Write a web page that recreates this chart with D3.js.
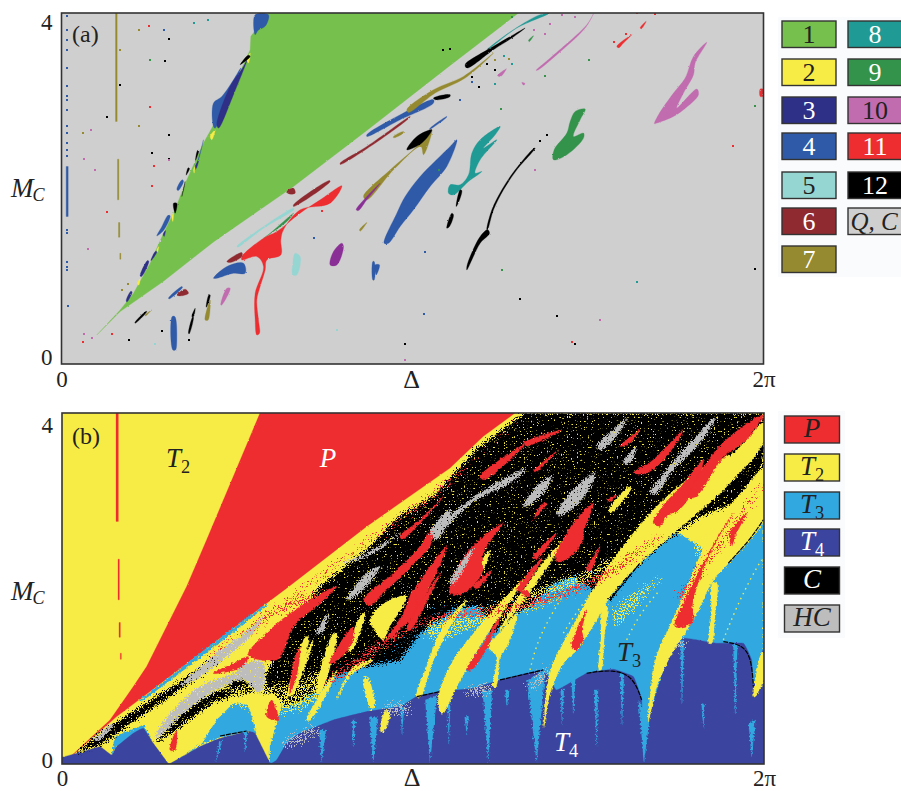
<!DOCTYPE html>
<html><head><meta charset="utf-8">
<style>
html,body{margin:0;padding:0;background:#fff}
svg{display:block}
svg text{font-family:"Liberation Serif","Times New Roman",serif !important;fill:#222}
</style>
<script src="https://cdn.jsdelivr.net/npm/d3@7/dist/d3.min.js"></script>
</head><body><svg id="c" width="901" height="791"></svg>
<script>
// Data: regions of the (Delta, M_C) parameter scan, read as [Delta step, M_C step] on a 2106 x 1052 grid.
const GRID_X=2106, GRID_Y=1052, DELTA_MAX=2*Math.PI, MC_MAX=4;
const xTickValues=[0,DELTA_MAX], xTickLabels=["0","2π"], yTickValues=[0,MC_MAX];

// ---- panel (a): attractor families ----
const a1=[[[106,87],[176,162],[216,212],[266,302],[306,392],[336,452],[376,552],[426,662],[476,752],[516,832],[566,942],[568,982],[621,1052],[1371,1052],[1166,895],[916,700],[696,532],[456,366],[306,248],[176,157]]];
const a2=[[[556,912],[566,932],[561,902]],[[446,682],[461,702],[451,672]],[[331,442],[336,452],[334,427]],[[286,342],[292,352],[288,335]],[[396,582],[400,592],[398,572]],[[228,242],[236,256],[232,236]]];
const a3=[[[466,717],[506,832],[546,892],[558,914],[516,807],[471,707]],[[271,312],[286,337],[282,338],[268,310]],[[401,590],[412,612],[404,586]],[[305,388],[312,400],[308,382]],[[196,186],[212,216],[208,218],[194,190]],[[240,262],[262,308],[258,310],[236,264]]];
const a4=[[[981,362],[1016,412],[1056,462],[1106,532],[1156,592],[1186,672],[1166,652],[1076,562],[1031,502],[1006,452],[968,362]],
[[456,257],[496,292],[546,302],[551,272],[516,272],[466,257]],
[[332,142],[340,142],[346,72],[342,42],[334,42]],
[[934,307],[938,307],[938,252],[934,252]],[[941,297],[954,297],[944,267]],
[[321,197],[361,232],[363,230],[323,195]],
[[916,682],[1016,732],[1116,782],[1116,792],[1016,747],[916,687]],
[[1106,707],[1156,742],[1154,738],[1104,703]],
[[581,1047],[621,1047],[611,1012],[590,1000],[581,987]],
[[456,712],[456,782],[481,802],[516,852],[538,887],[481,752],[461,707]],
[[426,672],[414,622],[401,582],[421,652]],
[[286,384],[306,400],[326,444],[320,446],[300,410]],[[350,520],[366,548],[362,552],[346,524]]];
const a4Column=[[[14,592],[20,592],[20,442],[14,442]]];
const a5=[[[701,332],[716,322],[706,267],[694,267],[694,302]],[[526,352],[606,412],[696,467],[698,464],[606,407],[528,350]]];
const a6=[[[496,307],[541,334],[541,322],[506,304]],[[346,207],[371,224],[381,212],[356,204]],[[676,517],[696,527],[701,512],[681,510]],[[836,602],[916,652],[1046,742],[1044,738],[916,645],[836,598]],[[696,472],[806,547],[804,550],[696,477]]];
const a7Lines=[[[162,1052],[167,1052],[167,727],[162,727]],[[168,614],[172,614],[172,492],[168,492]],[[171,424],[175,424],[175,380],[171,380]],[[175,332],[178,332],[178,314],[175,314]]];
const a7=[[[906,502],[986,582],[1066,652],[1111,702],[1086,627],[1078,652],[996,582],[916,492]],
[[1036,762],[1116,822],[1206,862],[1296,932],[1211,857],[1121,812],[1041,754]],
[[894,402],[916,424],[914,420],[896,398]],[[996,682],[1026,697],[1024,691],[996,678]],[[431,132],[446,192],[440,132]],[[251,147],[271,162],[269,160],[252,144]]];
const a8=[[[1161,512],[1166,537],[1196,537],[1221,567],[1231,632],[1256,672],[1316,712],[1301,687],[1266,647],[1306,672],[1256,612],[1241,572],[1261,577],[1221,547],[1176,507]],
[[1276,942],[1356,1002],[1436,1047],[1461,1050],[1366,1007],[1286,947]]];
const a9=[[[1476,612],[1478,642],[1516,692],[1526,727],[1541,757],[1571,764],[1556,732],[1536,682],[1566,692],[1566,677],[1516,627]],
[[606,377],[676,427],[696,452],[626,392]],[[1401,970],[1416,984],[1414,980],[1403,966]]];
const a10=[[[1779,720],[1791,747],[1836,812],[1871,857],[1896,922],[1936,964],[1901,902],[1896,867],[1866,812],[1846,767],[1906,824],[1911,807],[1866,762],[1836,742],[1786,722]],
[[1424,880],[1466,917],[1576,1017],[1596,1050],[1571,1007],[1486,927],[1431,882]],
[[1308,864],[1334,884],[1318,862]],[[481,177],[506,227],[496,227],[478,177]],[[1381,844],[1391,840],[1386,836]]];
const a11=[[[541,322],[606,377],[646,397],[716,452],[776,492],[841,534],[806,482],[716,462],[666,402],[658,372],[658,327],[616,312],[611,282],[596,232],[586,192],[591,132],[594,92],[586,87],[581,132],[581,212],[606,292],[586,322],[541,312]],
[[1666,952],[1711,987],[1686,962],[1671,947]],[[1736,1007],[1754,1027],[1740,1005]],[[2096,824],[2104,824],[2104,802],[2096,802]]];
const a12=[[[1216,282],[1231,312],[1256,362],[1284,392],[1278,402],[1256,382],[1226,322],[1216,292]],
[[1278,402],[1296,462],[1326,522],[1366,582],[1421,647],[1418,647],[1361,582],[1321,522],[1291,462],[1276,402]],
[[1156,407],[1171,452],[1176,447],[1164,412]],[[1184,472],[1196,522],[1201,520],[1188,477]],
[[1036,642],[1066,682],[1111,702],[1081,662]],
[[1211,897],[1296,952],[1356,987],[1391,1007],[1351,977],[1296,942],[1216,887]],
[[1116,797],[1161,807],[1161,800],[1121,792]],[[1126,797],[1166,807],[1164,800]],
[[336,482],[346,482],[341,452]],[[366,522],[371,547],[361,502]],[[381,92],[394,142],[396,140],[383,90]],[[391,142],[401,167],[396,142]],
[[221,122],[256,157],[254,158],[220,124]],[[436,172],[446,207],[442,207],[434,170]],[[536,897],[566,922],[560,925]],[[374,566],[384,586],[380,588]],[[402,610],[412,640],[408,640]]];
const aPurple=[[[806,297],[816,337],[841,362],[846,352],[826,297]],[[884,462],[916,502],[956,542],[916,492],[891,460]]];
const aDots12=[[321,975],[311,909],[176,835],[136,740],[321,687],[271,632],[323,614],[1031,59],[1376,195],[1486,145],[1541,59],[2081,284],[1456,687],[1436,667],[381,72],[201,72],[301,100],[1251,830],[1276,900],[1300,880],[1230,860],[1145,940],[1166,945]];
const aDots11=[[261,1014],[266,770],[136,457],[271,532],[64,65],[151,89],[276,592],[2013,654],[1531,67],[1726,1052],[1781,1048],[1692,990],[1656,965],[616,360],[781,460],[700,445]];
const aDots10=[[1031,12],[1616,132],[88,700],[66,615],[100,582],[80,345],[1451,990],[1466,1020],[1500,1045],[1540,1040],[1418,1000],[321,612],[68,90],[1419,580],[90,78]];
const aDots4=[[16,1042],[16,1002],[16,972],[16,942],[16,887],[16,832],[16,802],[16,792],[16,762],[16,712],[16,692],[16,662],[16,642],[16,622],[16,402],[16,392],[16,307],[16,292],[16,282],[20,174],[1090,337],[756,377],[306,1002],[1086,150],[1231,846],[1196,790]];
const aDots7=[[232,1002],[64,692],[232,712],[182,222],[176,940],[200,240],[1300,910],[1341,915]];
const aDots9=[[266,912],[1583,912],[2081,772],[1322,283],[1449,862],[1132,580],[1350,1040],[1318,764],[1458,1052]];
const aDots8=[[396,1022],[1726,246],[1326,922],[1300,840],[1350,900],[440,1030]];
const aDots5=[[300,1060],[826,102],[280,60]];
// ---- panel (b): dynamical regimes ----
const bP=[[[4,2],[144,132],[214,232],[254,292],[314,412],[374,532],[434,672],[594,1052],[1359,1052],[1264,982],[1164,887],[1014,782],[914,712],[674,527],[454,362],[284,232],[164,142]]];
const bT3=[[[624,0],[624,52],[664,192],[814,292],[964,332],[1114,472],[1314,492],[1614,592],[1814,712],[1999,602],[2104,732],[2104,0]],
[[334,4],[414,52],[464,132],[514,182],[559,177],[584,87],[559,97],[474,80],[414,57]],
[[149,27],[159,82],[244,117],[269,72],[164,52]],
[[234,192],[414,332],[614,482],[616,476],[419,322],[239,187]]];
const bT4=[[[4,0],[64,37],[114,52],[149,27],[164,52],[214,92],[244,107],[274,62],[319,2],[334,7],[414,52],[474,77],[554,97],[579,92],[624,4],[644,12],[674,62],[714,92],[814,132],[914,157],[1014,172],[1064,202],[1134,217],[1234,227],[1314,252],[1444,282],[1484,222],[1574,272],[1654,284],[1714,262],[1739,192],[1744,7],[1759,132],[1814,312],[1864,377],[1964,362],[2044,362],[2069,312],[2074,232],[2104,342],[2104,0]]];
const bT3Spikes=[[[462,7],[472,70],[480,70]],[[779,7],[772,102],[792,102]],[[934,7],[922,142],[948,138]],[[1104,7],[1090,192],[1125,205]],[[1279,7],[1262,222],[1290,222]],[[1424,7],[1396,250],[1450,285]],[[1604,52],[1597,222],[1608,222]],[[1746,7],[1730,190],[1762,130]],[[2069,22],[2060,122],[2080,132]],[[1214,92],[1208,142],[1220,142]],[[1334,172],[1330,222],[1342,222]],[[874,52],[870,132],[880,132]],[[1534,152],[1528,262],[1540,262]],[[1680,120],[1675,270],[1686,270]],[[1924,110],[1919,180],[1928,180]],[[550,40],[545,100],[555,100]],[[1020,90],[1016,170],[1026,170]],[[1160,60],[1156,215],[1166,215]],[[1500,120],[1496,225],[1506,225]],[[1860,180],[1855,370],[1866,370]],[[2020,150],[2014,360],[2026,360]]];
const bC=[[[674,402],[774,532],[914,642],[1014,745],[1114,800],[1234,935],[1374,1042],[1384,1052],[2104,1052],[2104,902],[2054,802],[2014,782],[1914,742],[1814,672],[1734,602],[1674,532],[1644,492],[1594,522],[1534,562],[1474,542],[1414,482],[1364,452],[1294,392],[1254,472],[1194,472],[1144,442],[1074,392],[1014,312],[964,302],[914,292],[874,282],[814,262],[774,222],[714,192],[674,172],[634,212],[604,212],[614,272],[654,352]],
[[44,32],[114,92],[214,158],[364,252],[454,316],[474,312],[374,238],[234,142],[124,62]],
[[284,62],[334,132],[414,192],[474,222],[574,232],[554,212],[454,187],[354,112]],
[[494,232],[534,262],[584,222],[554,212]]];
const bT2Spikes=[[[1139,152],[1194,252],[1264,372],[1334,472],[1384,552],[1314,482],[1244,402],[1164,292],[1129,192]],
[[1446,112],[1464,212],[1504,302],[1544,342],[1604,432],[1644,502],[1734,602],[1814,672],[1894,742],[1954,792],[2014,852],[2104,962],[2104,1022],[2014,932],[1964,912],[1874,852],[1784,772],[1714,692],[1654,612],[1594,522],[1544,432],[1504,362],[1464,272]],
[[1759,127],[1784,232],[1824,322],[1874,402],[1904,452],[1954,552],[1999,602],[2064,672],[2104,732],[2104,882],[2044,822],[1974,732],[1914,622],[1864,502],[1824,412],[1784,322]],
[[1942,362],[1949,452],[1952,542],[1964,542],[1959,452],[1949,362]],
[[1612,282],[1617,372],[1624,472],[1634,472],[1626,372],[1617,282]],
[[1294,232],[1304,322],[1279,352],[1314,392],[1364,452],[1334,352],[1314,322],[1302,232]],
[[1064,202],[1094,292],[1144,412],[1194,472],[1214,492],[1164,412],[1114,312],[1074,202]],
[[2076,202],[2099,332],[2104,332],[2104,252]],
[[1314,402],[1364,492],[1434,592],[1534,702],[1464,602],[1394,502]],
[[954,112],[974,162],[984,152],[962,92]],[[929,162],[904,252],[914,262],[939,182]],
[[734,132],[764,192],[824,282],[814,252],[744,132]],[[674,202],[714,292],[754,372],[714,252],[684,202]],
[[824,192],[874,292],[934,312],[864,262]],[[924,432],[984,492],[1034,502],[984,412],[964,372],[944,392]],
[[764,212],[814,392],[824,392],[774,212]],[[684,230],[730,380],[740,380],[694,230]],[[860,340],[900,450],[908,450],[870,340]],[[1640,760],[1700,830],[1706,826],[1648,754]],[[1240,560],[1280,640],[1284,636],[1246,556]]];
const bPSpikes=[[[1774,722],[1800,770],[1864,840],[1924,912],[1900,830],[1850,760],[1814,742],[1794,712]],
[[1479,622],[1500,665],[1534,722],[1594,782],[1564,692],[1564,672],[1524,620],[1489,606]],
[[1214,282],[1264,362],[1314,442],[1272,342],[1228,282]],
[[1529,352],[1544,402],[1574,462],[1560,402],[1563,372],[1543,342]],
[[1839,412],[1874,502],[1974,692],[2014,752],[1940,622],[1892,482],[1892,425],[1858,410]],
[[2009,652],[2004,692],[2054,752],[2019,682]],
[[1164,512],[1214,632],[1324,722],[1264,632],[1260,572],[1204,512]],
[[1014,562],[1074,652],[1114,707],[1104,652],[1034,582]],
[[1014,412],[1064,532],[1154,652],[1100,525],[1040,425]],
[[1714,872],[1774,912],[1864,1002],[1814,922],[1754,872]],
[[1414,732],[1434,772],[1454,782],[1434,752]],[[1674,952],[1734,1002],[1704,962]],[[1880,800],[1970,950],[2104,1047],[2054,972],[1985,920],[1900,800]],[[1634,792],[1664,807],[1644,787]],[[1414,877],[1489,942],[1424,877]],[[1374,512],[1394,522],[1404,502]],
[[969,367],[1024,452],[1054,522],[1064,472],[1004,395]],
[[904,492],[994,572],[1064,640],[1104,692],[1054,600],[974,522],[924,475]],
[[804,302],[854,392],[874,412],[870,362],[814,302]],
[[559,327],[624,402],[714,472],[824,532],[774,482],[694,412],[674,362],[644,312]],
[[684,212],[694,302],[714,352],[704,262]],[[454,272],[514,302],[559,322],[544,292],[474,272]],[[324,42],[344,102],[339,42]],[[614,142],[629,192],[649,132]],
[[1014,682],[1074,732],[1144,802],[1086,734],[1020,674]],[[1254,862],[1394,962],[1266,852]],[[1384,962],[1500,1002],[1396,954]],[[1234,532],[1290,580],[1246,526]],[[1364,522],[1444,622],[1374,515]],[[1414,622],[1484,692],[1424,615]],[[1574,582],[1614,652],[1584,578]],[[1034,402],[1134,572],[1044,400]]];
const bPLines=[[[162,1052],[169,1052],[169,727],[162,727]],[[168,614],[172,614],[172,492],[168,492]],[[171,424],[175,424],[175,380],[171,380]],[[175,332],[178,332],[178,314],[175,314]]];
const bPFringe=[[[444,325],[674,490],[914,668],[1164,852],[1374,1035],[1360,1025],[1150,830],[900,650],[660,475],[440,320]],
[[800,250],[1100,440],[1310,470],[1600,560],[1800,690],[1790,675],[1600,540],[1300,450],[1090,420],[800,240]],
[[560,400],[640,470],[800,520],[780,500],[640,450],[560,390]],
[[1850,500],[1920,600],[2000,700],[2100,840],[2090,820],[2000,680],[1930,590],[1860,490]]];
const bT2Fringe=[[[1100,420],[1300,480],[1600,590],[1800,700],[1780,660],[1600,540],[1300,430],[1100,380]],[[500,190],[700,160],[800,240],[780,280],[700,240],[520,230]],[[1650,450],[1800,560],[1760,520],[1660,420]],[[1900,660],[2000,760],[2060,800],[2010,730],[1910,630]]];
const bHC=[[[1604,952],[1654,1002],[1694,1037],[1664,982],[1614,942]],[[1764,812],[1814,882],[1864,942],[1964,1042],[1914,962],[1834,882],[1784,812]],[[1484,747],[1534,822],[1599,872],[1574,812],[1514,752]],[[1384,772],[1424,832],[1469,862],[1444,812],[1394,772]],[[1114,677],[1164,742],[1254,812],[1394,887],[1344,842],[1244,792],[1164,722],[1124,672]],[[1164,542],[1189,592],[1234,647],[1214,602],[1174,542]],[[1684,902],[1724,952],[1704,902]],
[[854,492],[914,572],[954,592],[894,512]],[[844,602],[934,642],[1014,692],[934,632]],[[1104,692],[1164,762],[1164,732],[1124,682]],[[764,392],[799,452],[779,392]],
[[354,232],[454,322],[574,412],[604,442],[574,392],[494,322],[414,262]],
[[284,92],[334,162],[414,232],[514,272],[564,307],[604,302],[594,212],[544,252],[464,222],[374,162],[314,102],[284,82]],[[94,72],[154,122],[114,72]]];
const bHCFringe=[[[664,60],[760,110],[770,100],[670,50]],[[960,165],[1040,185],[1040,160],[970,150]],[[1214,222],[1280,240],[1290,220],[1220,205]],[[1400,230],[1450,290],[1460,270],[1410,225]],[[1830,350],[1860,380],[1870,360]]];
const bBoundary=[[[1574,272],[1654,284],[1714,262],[1739,192]],[[1984,367],[2044,357],[2069,312],[2074,232]],[[1314,252],[1444,282]],[[1064,202],[1134,217]],[[474,84],[554,99]],[[1999,602],[2064,672],[2104,732]],[[1644,492],[1734,602]]];
const bT2Arcs=[[[1404,282],[1424,362],[1464,442],[1514,522]],[[1694,372],[1734,452],[1794,522]],[[1984,372],[2024,472],[2074,572],[2099,612]],[[1174,412],[1234,502],[1314,572]],[[1504,392],[1554,472],[1614,542]],[[1244,300],[1290,400],[1340,480]]];

const legendALabels=["1","2","3","4","5","6","7","8","9","10","11","12","Q, C"];
const legendBLabels=[["P"],["T","2"],["T","3"],["T","4"],["C"],["HC"]];

// ---- styles / layout ----
const COL={1:"#76c04e",2:"#f7ec46",3:"#2e2f86",4:"#2f5aa8",5:"#95d6d3",6:"#8f2a30",7:"#958a2f",8:"#1f9a94",9:"#33934a",10:"#c26cb0",11:"#ee2d30",12:"#000000",bg:"#cfcfcf",purple:"#8a2f96"};
const BC={P:"#ee2d30",T2:"#f7ec46",T3:"#32a8e0",T4:"#3b45a0",C:"#000000",HC:"#bdbdbd"};
const svg=d3.select("#c");
const xA=d3.scaleLinear([0,DELTA_MAX],[61.5,763.5]), yA=d3.scaleLinear([0,MC_MAX],[364,13]);
const xB=d3.scaleLinear([0,DELTA_MAX],[62,764]), yB=d3.scaleLinear([0,MC_MAX],[764,413]);
const toD=u=>u/GRID_X*DELTA_MAX, toM=v=>v/GRID_Y*MC_MAX;

const defs=svg.append("defs");
function cp(id,x,y){defs.append("clipPath").attr("id",id).append("rect").attr("x",x(0)).attr("y",y(MC_MAX)).attr("width",x(DELTA_MAX)-x(0)).attr("height",y(0)-y(MC_MAX));}
cp("ca",xA,yA);cp("cb",xB,yB);
function rough(id,freq,scale,seed,holes,cut){
  const f=defs.append("filter").attr("id",id).attr("filterUnits","userSpaceOnUse").attr("x",0).attr("y",0).attr("width",901).attr("height",791).attr("color-interpolation-filters","sRGB");
  f.append("feTurbulence").attr("type","fractalNoise").attr("baseFrequency",freq).attr("numOctaves",2).attr("seed",seed).attr("result","n");
  f.append("feDisplacementMap").attr("in","SourceGraphic").attr("in2","n").attr("scale",scale).attr("xChannelSelector","R").attr("yChannelSelector","G").attr("result","d");
  if(holes){
    f.append("feTurbulence").attr("type","fractalNoise").attr("baseFrequency",0.7).attr("numOctaves",1).attr("seed",seed+4).attr("result","m");
    f.append("feColorMatrix").attr("in","m").attr("type","matrix").attr("values",`0 0 0 0 0 0 0 0 0 0 0 0 0 0 0 ${-holes} 0 0 0 ${holes*cut}`).attr("result","t");
    f.append("feComposite").attr("in","d").attr("in2","t").attr("operator","in");
  }
}
rough("r0",0.5,2,3,0);
rough("r1",0.45,4,3,0);
rough("r2",0.8,14,7,14,0.72);
rough("r3",0.5,5,11,0);
rough("r4",0.7,8,5,14,0.72);
rough("r5",0.9,20,9,30,0.5);

const lineCurve=d3.curveLinearClosed, blobCurve=d3.curveCatmullRomClosed.alpha(0.5);
function layer(g,polys,color,x,y,filter,curve=blobCurve){
  const ln=d3.line().x(d=>x(toD(d[0]))).y(d=>y(toM(d[1]))).curve(curve);
  const gg=g.append("g"); if(filter)gg.attr("filter",`url(#${filter})`);
  gg.selectAll("path").data(polys).join("path").attr("d",ln).attr("fill",color).attr("stroke",color).attr("stroke-width",.3);
  return gg;
}
function dots(g,pts,color,x,y){
  g.selectAll(null).data(pts).join("rect").attr("x",d=>x(toD(d[0]))-1).attr("y",d=>y(toM(d[1]))-1).attr("width",2).attr("height",2).attr("fill",color).attr("shape-rendering","crispEdges");
}
function frame(x,y){
  svg.append("rect").attr("x",x(0)).attr("y",y(MC_MAX)).attr("width",x(DELTA_MAX)-x(0)).attr("height",y(0)-y(MC_MAX)).attr("fill","none").attr("stroke","#333").attr("stroke-width",1.6);
}
function axes(x,y,xBase,yBase0,yBase4,mcY,deltaY){
  const gx=svg.append("g").attr("transform",`translate(0,${y(0)})`).call(d3.axisBottom(x).tickValues(xTickValues).tickSize(0).tickFormat((d,i)=>xTickLabels[i]));
  gx.select(".domain").remove();
  gx.selectAll("text").attr("font-size",23).attr("y",xBase-y(0)).attr("dy",0);
  const gy=svg.append("g").attr("transform",`translate(${x(0)},0)`).call(d3.axisLeft(y).tickValues(yTickValues).tickSize(0).tickPadding(9).tickFormat(d3.format("d")));
  gy.select(".domain").remove();
  gy.selectAll("text").attr("font-size",23).attr("dy",0).attr("y",d=>(d===0?yBase0:yBase4)-y(d));
  const mc=svg.append("text").attr("x",11).attr("y",mcY).attr("font-size",27);
  mc.append("tspan").attr("font-style","italic").text("M");
  mc.append("tspan").attr("font-style","italic").attr("font-size",18).attr("dy",4).attr("dx",-1).text("C");
  svg.append("text").attr("x",(x(0)+x(DELTA_MAX))/2-1).attr("y",deltaY).attr("text-anchor","middle").attr("font-size",26).text("Δ");
}
function subText(g,x,y,parts,size,fill){
  const t=g.append("text").attr("x",x).attr("y",y).attr("font-size",size).attr("font-style","italic").attr("text-anchor","middle").style("fill",fill);
  t.append("tspan").text(parts[0]);
  if(parts[1])t.append("tspan").attr("font-style","normal").attr("font-size",size*.68).attr("dy",size*.22).text(parts[1]);
}

// panel a
const pa=svg.append("g").attr("clip-path","url(#ca)");
pa.append("rect").attr("x",xA(0)).attr("y",yA(MC_MAX)).attr("width",702).attr("height",351).attr("fill",COL.bg);
layer(pa,a1,COL[1],xA,yA,"r0",lineCurve);
const aLayers=[[a4,4],[a3,3],[a2,2],[a6,6],[a5,5],[a8,8],[a9,9],[a10,10],[a7,7],[a11,11],[a12,12]];
aLayers.forEach(([p,k])=>layer(pa,p,COL[k],xA,yA,"r0"));
layer(pa,aPurple,COL.purple,xA,yA,"r0");
layer(pa,a7Lines,COL[7],xA,yA,null,lineCurve);
layer(pa,a4Column,COL[4],xA,yA,null,lineCurve);
[[aDots12,12],[aDots11,11],[aDots10,10],[aDots4,4],[aDots7,7],[aDots9,9],[aDots8,8],[aDots5,5]].forEach(([p,k])=>dots(pa,p,COL[k],xA,yA));
frame(xA,yA);
axes(xA,yA,387,364,29,197,388);
svg.append("text").attr("x",72).attr("y",42).attr("font-size",24).text("(a)");

// panel b
const pb=svg.append("g").attr("clip-path","url(#cb)");
pb.append("rect").attr("x",xB(0)).attr("y",yB(MC_MAX)).attr("width",702).attr("height",351).attr("fill",BC.T2);
layer(pb,bP,BC.P,xB,yB,"r0",lineCurve);
layer(pb,bT3,BC.T3,xB,yB,"r3",lineCurve);
layer(pb,bT4,BC.T4,xB,yB,"r0",d3.curveCardinalClosed.tension(0.7));
layer(pb,bT3Spikes,BC.T3,xB,yB,"r3",lineCurve);
layer(pb,bHCFringe,BC.HC,xB,yB,"r5");
pb.append("g").selectAll("path").data(bT2Arcs).join("path").attr("d",d3.line().x(d=>xB(toD(d[0]))).y(d=>yB(toM(d[1]))).curve(d3.curveBasis)).attr("fill","none").attr("stroke",BC.T2).attr("stroke-width",1.4).attr("stroke-dasharray","1.5 4");
layer(pb,bT2Spikes.slice(0,9),BC.T2,xB,yB,"r1");
layer(pb,bC,BC.C,xB,yB,"r2",lineCurve);
layer(pb,bT2Fringe,BC.T2,xB,yB,"r5");
layer(pb,bT2Spikes,BC.T2,xB,yB,"r3");
layer(pb,bPFringe,BC.P,xB,yB,"r5");
layer(pb,bPSpikes,BC.P,xB,yB,"r1");
layer(pb,bPLines,BC.P,xB,yB,null,lineCurve);
layer(pb,bHC,BC.HC,xB,yB,"r4");
pb.append("g").selectAll("path").data(bBoundary).join("path").attr("d",d3.line().x(d=>xB(toD(d[0]))).y(d=>yB(toM(d[1]))).curve(d3.curveBasis)).attr("fill","none").attr("stroke","#000").attr("stroke-width",1.2).attr("stroke-dasharray","5 1");
frame(xB,yB);
axes(xB,yB,785.5,767,432,600,785.5);
svg.append("text").attr("x",72).attr("y",444).attr("font-size",24).text("(b)");
subText(svg,178,467,["T","2"],27,"#222");
subText(svg,328,467,["P"],27,"#fff");
subText(svg,629,661,["T","3"],27,"#222");
subText(svg,566,751,["T","4"],27,"#fff");

// legends
const legA=[[782,21],[782,59],[782,97],[782,133],[782,172],[782,208],[782,246],[848,21],[848,59],[848,97],[848,133],[848,172],[848,208]];
const legADark=new Set(["1","2","5","10"]);
svg.append("rect").attr("x",778).attr("y",17).attr("width",123).attr("height",260).attr("fill","#fafbfc");
svg.selectAll("rect.la").data(legendALabels).join("rect").attr("class","la").attr("x",(d,i)=>legA[i][0]).attr("y",(d,i)=>legA[i][1]).attr("width",54).attr("height",26.5)
 .attr("fill",(d,i)=>i<12?COL[i+1]:COL.bg).attr("stroke","#333").attr("stroke-width",1.4);
legendALabels.forEach((l,i)=>{
  const t=svg.append("text").attr("x",legA[i][0]+(i==12?26:27)).attr("y",legA[i][1]+22).attr("font-size",i==12?25:26).attr("text-anchor","middle").style("fill",(legADark.has(l)||i==12)?"#222":"#fff").text(l);
  if(i==12)t.attr("font-style","italic");
});
const legBFill=["P","T2","T3","T4","C","HC"].map(k=>BC[k]);
const legBY=[416,454,492,529,567,605];
const legBText=["#222","#222","#222","#fff","#fff","#222"];
svg.append("rect").attr("x",778).attr("y",411).attr("width",67).attr("height",227).attr("fill","#fafbfc");
svg.selectAll("rect.lb").data(legendBLabels).join("rect").attr("class","lb").attr("x",784.5).attr("y",(d,i)=>legBY[i]).attr("width",55).attr("height",27).attr("fill",(d,i)=>legBFill[i]).attr("stroke","#333").attr("stroke-width",1.4);
legendBLabels.forEach((l,i)=>subText(svg,812,legBY[i]+21,l,27,legBText[i]));
</script></body></html>
